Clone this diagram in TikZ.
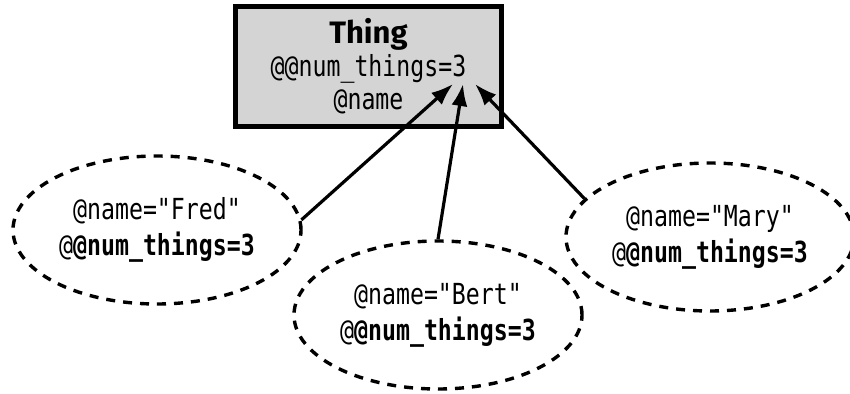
\documentclass[tikz,border=0pt]{standalone}
\usepackage{fontspec}
\setmonofont[FakeStretch=0.8]{DejaVu Sans Mono}
\newfontfamily\thingfont{Fira Sans}
\usetikzlibrary{arrows.meta,shapes.geometric}
\definecolor{boxgray}{HTML}{D4D4D4}
\tikzset{
  objbox/.style={draw, line width=4.5pt, fill=boxgray, minimum width=266pt, minimum height=120pt, inner sep=0pt, align=center, font=\ttfamily\fontsize{29}{33}\selectfont},
  inst/.style={ellipse, draw, line width=3.4pt, dash pattern=on 9pt off 8pt, minimum width=288pt, minimum height=148pt, inner sep=0pt, align=center, font=\ttfamily\fontsize{29}{36}\selectfont},
  link/.style={line width=3.2pt, -{Latex[length=22pt,width=16pt]}}
}
\begin{document}
\begin{tikzpicture}[x=1pt,y=-1pt]
\useasboundingbox (0,0) rectangle (850,393);
\fill[white] (0,0) rectangle (850,393);
\node[objbox] (thing) at (368.5,66.5) {{\thingfont\bfseries\fontsize{31}{33}\selectfont Thing}\\@@num\_things=3\\@name};
\node[inst] (fred) at (157,230) {@name="Fred"\\@\textbf{@num\_things=3}};
\node[inst] (bert) at (438,315) {@name="Bert"\\@\textbf{@num\_things=3}};
\node[inst] (mary) at (710,237) {@name="Mary"\\@\textbf{@num\_things=3}};
\coordinate (t1) at (453,84);
\coordinate (t2) at (463,84);
\coordinate (t3) at (475,84);
\draw[link] (fred.4) -- (t1);
\draw[link] (bert.north) -- (t2);
\draw[link] (mary.163) -- (t3);
\end{tikzpicture}
\end{document}
